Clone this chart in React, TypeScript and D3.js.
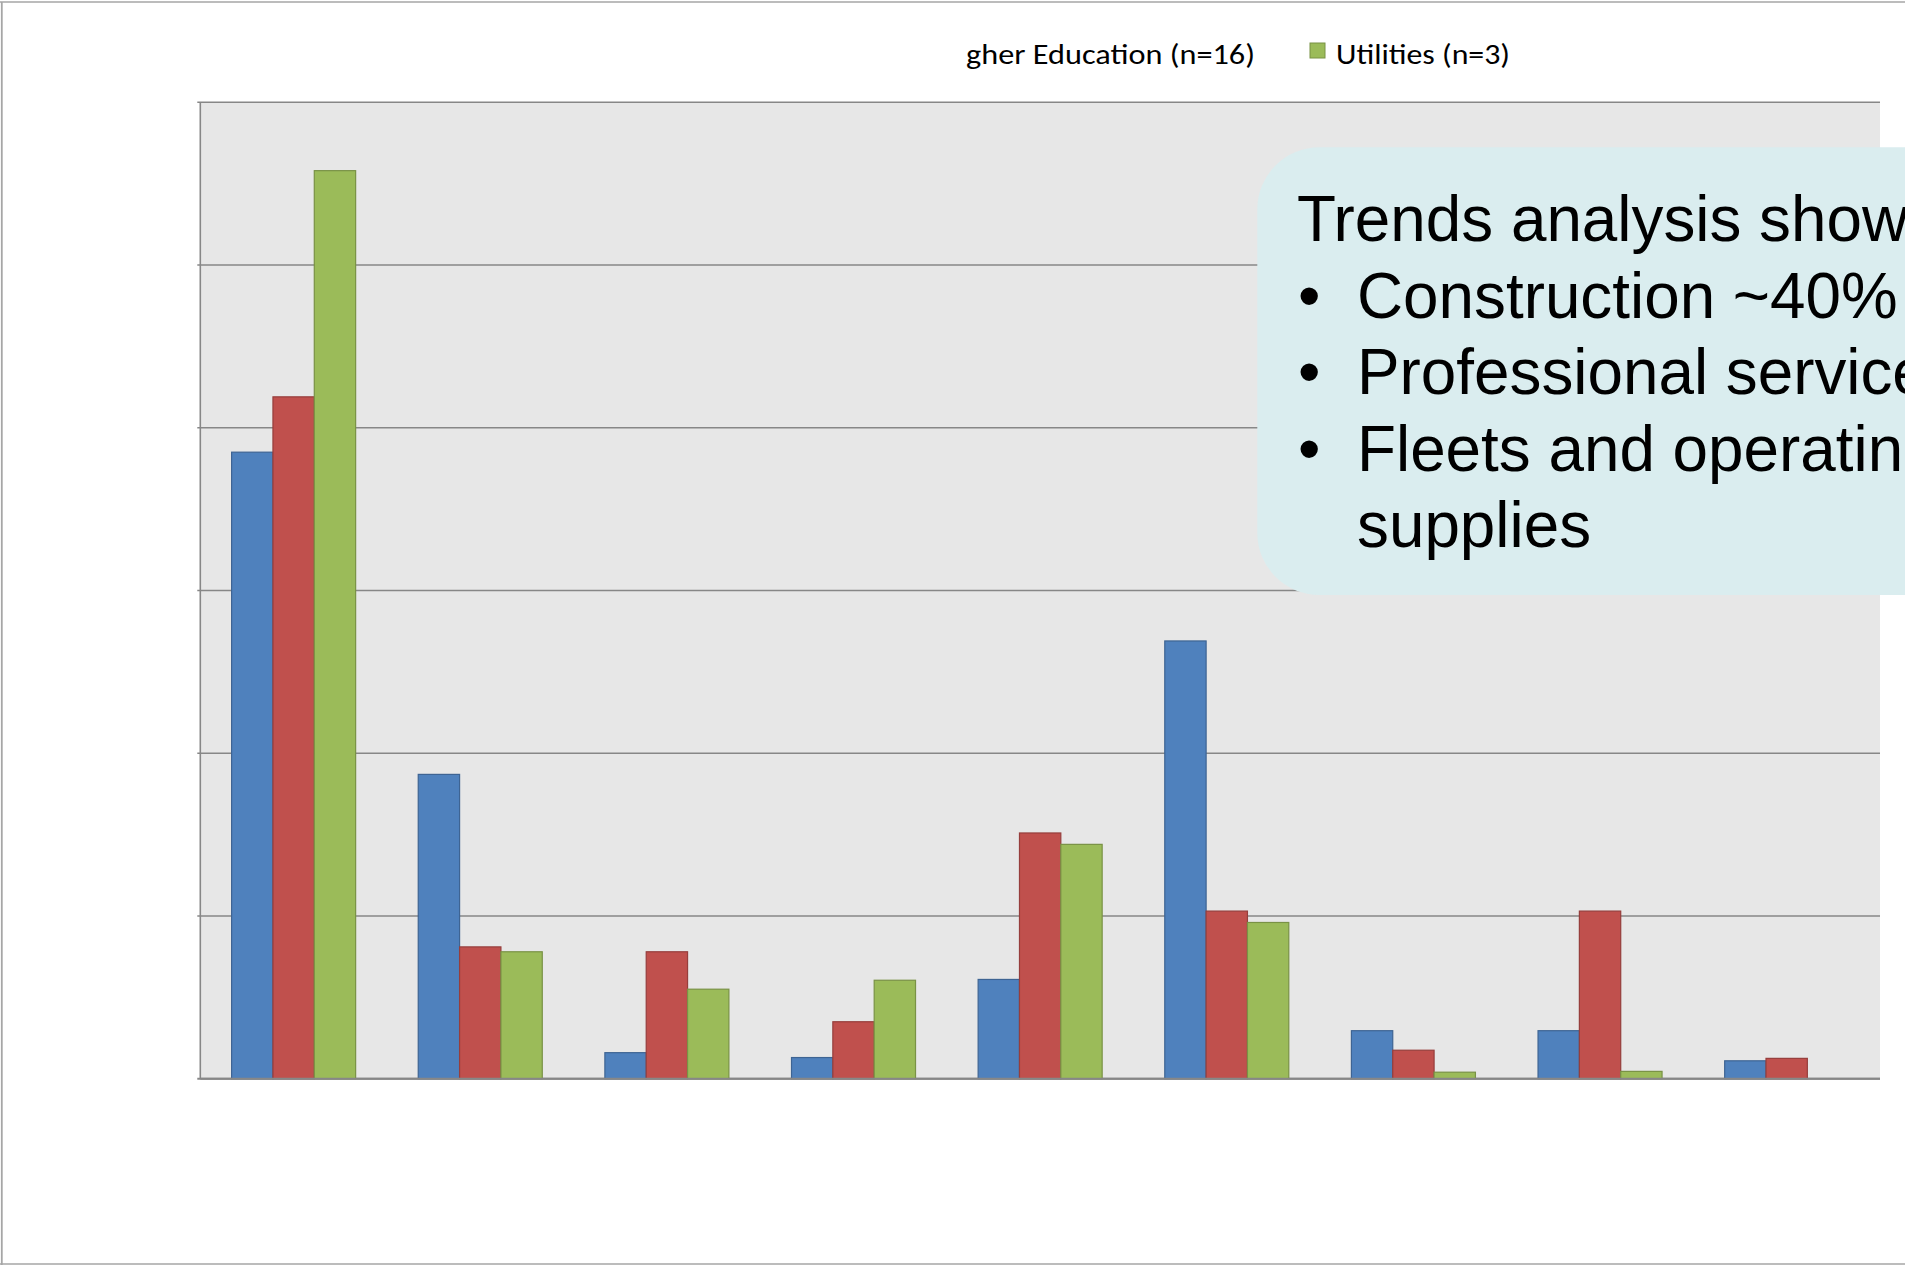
import React from "react";
import * as d3 from "d3";

// ---- data (values in percent) ----
const categories = ["c1", "c2", "c3", "c4", "c5", "c6", "c7", "c8", "c9"];
const seriesKeys = ["s1", "s2", "s3"];
const seriesA = [38.5, 18.7, 1.6, 1.3, 6.1, 26.9, 2.95, 2.95, 1.1];
const seriesB = [41.9, 8.1, 7.8, 3.5, 15.1, 10.3, 1.75, 10.3, 1.25];
const seriesC = [55.8, 7.8, 5.5, 6.05, 14.4, 9.6, 0.4, 0.45, 0];
const seriesValues = [seriesA, seriesB, seriesC];
const seriesColors = ["#4F81BD", "#C0504D", "#9BBB59"];
const legendLabels = ["gher Education (n=16)", "Utilities (n=3)"];
const yTicks = [0, 10, 20, 30, 40, 50, 60];
const calloutLines = [
  "Trends analysis show",
  "Construction ~40%",
  "Professional service",
  "Fleets and operatin",
  "supplies",
];
const calloutBullets = [false, true, true, true, false];

const W = 1905;
const H = 1265;
const plot = { left: 200.3, right: 1880, top: 102.3, bottom: 1078.7 };

export default function App() {
  const x0 = d3
    .scaleBand<string>()
    .domain(categories)
    .range([plot.left, plot.right])
    .paddingInner(0.3355)
    .paddingOuter(0.1678);
  const x1 = d3
    .scaleBand<string>()
    .domain(seriesKeys)
    .range([0, x0.bandwidth()]);
  const y = d3.scaleLinear().domain([0, 60]).range([plot.bottom, plot.top]);

  const gridColor = "#878787";
  const calloutX = 1257.3;
  const calloutY = 147.3;
  const calloutBottom = 595;
  const squeeze = 0.997;

  return (
    <svg
      width={W}
      height={H}
      style={{ position: "absolute", left: 0, top: 0, display: "block" }}
    >
      <rect x={0} y={0} width={W} height={H} fill="#ffffff" />
      {/* outer frame */}
      <line x1={0} x2={W} y1={2} y2={2} stroke="#a6a6a6" strokeWidth={1.5} />
      <line x1={1.8} x2={1.8} y1={2} y2={H} stroke="#a6a6a6" strokeWidth={1.8} />
      <line x1={0} x2={W} y1={1264} y2={1264} stroke="#a6a6a6" strokeWidth={1.5} />

      {/* plot area */}
      <rect
        x={plot.left}
        y={plot.top}
        width={plot.right - plot.left}
        height={plot.bottom - plot.top}
        fill="#E7E7E7"
      />
      {yTicks.map((t) => (
        <line
          key={t}
          x1={plot.left - 3}
          x2={plot.right}
          y1={y(t)}
          y2={y(t)}
          stroke={gridColor}
          strokeWidth={t === 0 ? 2 : 1.4}
        />
      ))}
      <line
        x1={plot.left}
        x2={plot.left}
        y1={plot.top}
        y2={plot.bottom}
        stroke={gridColor}
        strokeWidth={1.6}
      />

      {/* bars */}
      {categories.map((c, ci) => (
        <g key={c} transform={`translate(${x0(c)},0)`}>
          {seriesKeys.map((s, si) => {
            const v = seriesValues[si][ci];
            if (!v) return null;
            const col = seriesColors[si];
            return (
              <rect
                key={s}
                x={x1(s)}
                y={y(v)}
                width={x1.bandwidth()}
                height={y(0) - y(v)}
                fill={col}
                stroke={d3.color(col)!.darker(0.7).formatHex()}
                strokeWidth={1.2}
              />
            );
          })}
        </g>
      ))}
      <line
        x1={plot.left}
        x2={plot.right}
        y1={y(0)}
        y2={y(0)}
        stroke={gridColor}
        strokeWidth={2}
      />

      {/* legend (partly hidden in the original) */}
      <text
        x={966}
        y={64}
        fontFamily="Carlito, Lato, sans-serif"
        fontSize={29}
        fill="#000"
        textLength={289}
        lengthAdjust="spacingAndGlyphs"
      >
        {legendLabels[0]}
      </text>
      <rect
        x={1310}
        y={43}
        width={15}
        height={15}
        fill={seriesColors[2]}
        stroke={d3.color(seriesColors[2])!.darker(0.7).formatHex()}
        strokeWidth={1}
      />
      <text
        x={1336}
        y={64}
        fontFamily="Carlito, Lato, sans-serif"
        fontSize={29}
        fill="#000"
        textLength={174}
        lengthAdjust="spacingAndGlyphs"
      >
        {legendLabels[1]}
      </text>

      {/* callout */}
      <rect
        x={calloutX}
        y={calloutY}
        width={W - calloutX + 80}
        height={calloutBottom - calloutY}
        rx={62}
        ry={62}
        fill="#DAEDEF"
      />
      {calloutLines.map((line, i) => {
        const by = 241 + i * 76.6;
        const tx = i === 0 ? 1297 : 1357;
        return (
          <g key={i}>
            {calloutBullets[i] && (
              <text
                x={1298}
                y={by}
                fontFamily="'Liberation Sans', Arial, sans-serif"
                fontSize={64}
                fill="#000"
              >
                •
              </text>
            )}
            <g transform={`translate(${tx},${by}) scale(${squeeze},1)`}>
              <text
                x={0}
                y={0}
                fontFamily="'Liberation Sans', Arial, sans-serif"
                fontSize={64}
                fill="#000"
              >
                {line}
              </text>
            </g>
          </g>
        );
      })}
    </svg>
  );
}
